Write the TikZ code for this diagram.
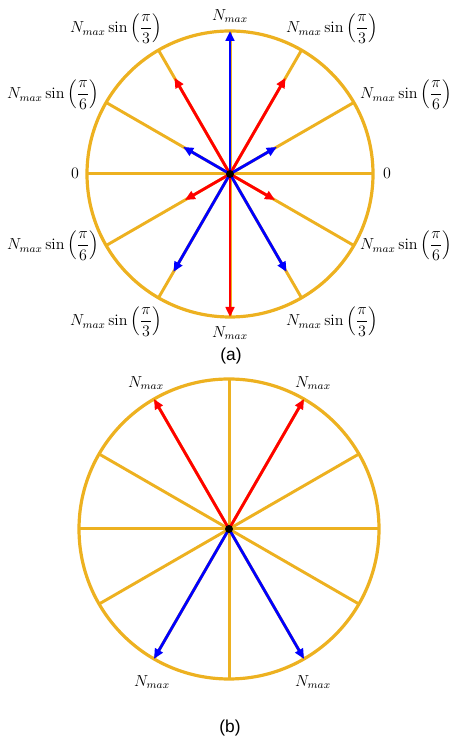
\documentclass[tikz,border=0pt]{standalone}
\usepackage{amsmath}
\usepackage{fontspec}
\newfontfamily\tagfont{Liberation Sans}
\usepackage{xcolor}
\definecolor{wheelorange}{RGB}{237,177,32}
\definecolor{vred}{RGB}{255,0,0}
\definecolor{vblue}{RGB}{0,0,255}
\usetikzlibrary{arrows.meta,calc}
\tikzset{
  rim/.style={draw=wheelorange, line width=2.4pt},
  spoke/.style={draw=wheelorange, line width=2.2pt},
  axisspoke/.style={fill=wheelorange},
  vec/.style={-{Triangle[length=7.5pt,width=6.5pt]}, line width=2.1pt},
  vecred/.style={vec, draw=vred},
  vecblue/.style={vec, draw=vblue},
  hub/.style={circle, fill=black, inner sep=0pt, minimum size=6pt},
  lbl/.style={font=\large, inner sep=0pt},
  parttag/.style={font=\fontsize{13}{15}\selectfont\tagfont, inner sep=0pt}
}

\begin{document}
\begin{tikzpicture}[x=0.75pt, y=0.75pt]
  \useasboundingbox (0,0) rectangle (451,741);
  % (a)
  \coordinate (ca) at (230,567);
  \draw[rim] (ca) circle[radius=143];
  \foreach \a in {30,60,120,150} \draw[spoke] ($(ca)+(\a:143)$) -- ($(ca)+(\a+180:143)$);
  \fill[axisspoke] ($(ca)+(-143,-1.5)$) rectangle ($(ca)+(143,1.5)$);
  \fill[axisspoke] ($(ca)+(-1.5,-143)$) rectangle ($(ca)+(1.5,143)$);
  \coordinate (a90) at ($(ca)+(90:143)$);
  \coordinate (a60) at ($(ca)+(60:111)$);
  \coordinate (a120) at ($(ca)+(120:111)$);
  \coordinate (a30) at ($(ca)+(30:54)$);
  \coordinate (a150) at ($(ca)+(150:54)$);
  \coordinate (a210) at ($(ca)+(210:52)$);
  \coordinate (a330) at ($(ca)+(330:52)$);
  \coordinate (a240) at ($(ca)+(240:113)$);
  \coordinate (a300) at ($(ca)+(300:113)$);
  \coordinate (a270) at ($(ca)+(270:143)$);
  \draw[vecblue] (ca) -- (a90);
  \draw[vecred] (ca) -- (a60); \draw[vecred] (ca) -- (a120);
  \draw[vecblue] (ca) -- (a30); \draw[vecblue] (ca) -- (a150);
  \draw[vecred] (ca) -- (a210); \draw[vecred] (ca) -- (a330);
  \draw[vecblue] (ca) -- (a240); \draw[vecblue] (ca) -- (a300);
  \draw[vecred] (ca) -- (a270);
  \node[hub] (hubA) at (ca) {};
  \node[lbl] (la90) at (230,725) {$N_{max}$};
  \node[lbl] (la60) at (332,712) {$N_{max}\sin\left(\dfrac{\pi}{3}\right)$};
  \node[lbl] (la120) at (116,712) {$N_{max}\sin\left(\dfrac{\pi}{3}\right)$};
  \node[lbl] (la30) at (406,646) {$N_{max}\sin\left(\dfrac{\pi}{6}\right)$};
  \node[lbl] (la150) at (53,646) {$N_{max}\sin\left(\dfrac{\pi}{6}\right)$};
  \node[lbl] (la0) at (387,568) {$0$};
  \node[lbl] (la180) at (75,568) {$0$};
  \node[lbl] (la330) at (406,495) {$N_{max}\sin\left(\dfrac{\pi}{6}\right)$};
  \node[lbl] (la210) at (53,495) {$N_{max}\sin\left(\dfrac{\pi}{6}\right)$};
  \node[lbl] (la300) at (332,419) {$N_{max}\sin\left(\dfrac{\pi}{3}\right)$};
  \node[lbl] (la240) at (116,419) {$N_{max}\sin\left(\dfrac{\pi}{3}\right)$};
  \node[lbl] (la270) at (230,408) {$N_{max}$};
  \node[parttag] (tagA) at (231,385) {(a)};
  % (b)
  \coordinate (cb) at (229,212);
  \draw[rim] (cb) circle[radius=150];
  \foreach \a in {30,60,120,150} \draw[spoke] ($(cb)+(\a:150)$) -- ($(cb)+(\a+180:150)$);
  \fill[axisspoke] ($(cb)+(-150,-1.5)$) rectangle ($(cb)+(150,1.5)$);
  \fill[axisspoke] ($(cb)+(-1.5,-150)$) rectangle ($(cb)+(1.5,150)$);
  \coordinate (b60) at ($(cb)+(60:150)$);
  \coordinate (b120) at ($(cb)+(120:150)$);
  \coordinate (b240) at ($(cb)+(240:150)$);
  \coordinate (b300) at ($(cb)+(300:150)$);
  \draw[vecred] (cb) -- (b60); \draw[vecred] (cb) -- (b120);
  \draw[vecblue] (cb) -- (b240); \draw[vecblue] (cb) -- (b300);
  \node[hub] (hubB) at (cb) {};
  \node[lbl] (lb60) at (313,358) {$N_{max}$};
  \node[lbl] (lb120) at (146,358) {$N_{max}$};
  \node[lbl] (lb240) at (152,59) {$N_{max}$};
  \node[lbl] (lb300) at (313,59) {$N_{max}$};
  \node[parttag] (tagB) at (230,13) {(b)};
\end{tikzpicture}
\end{document}
